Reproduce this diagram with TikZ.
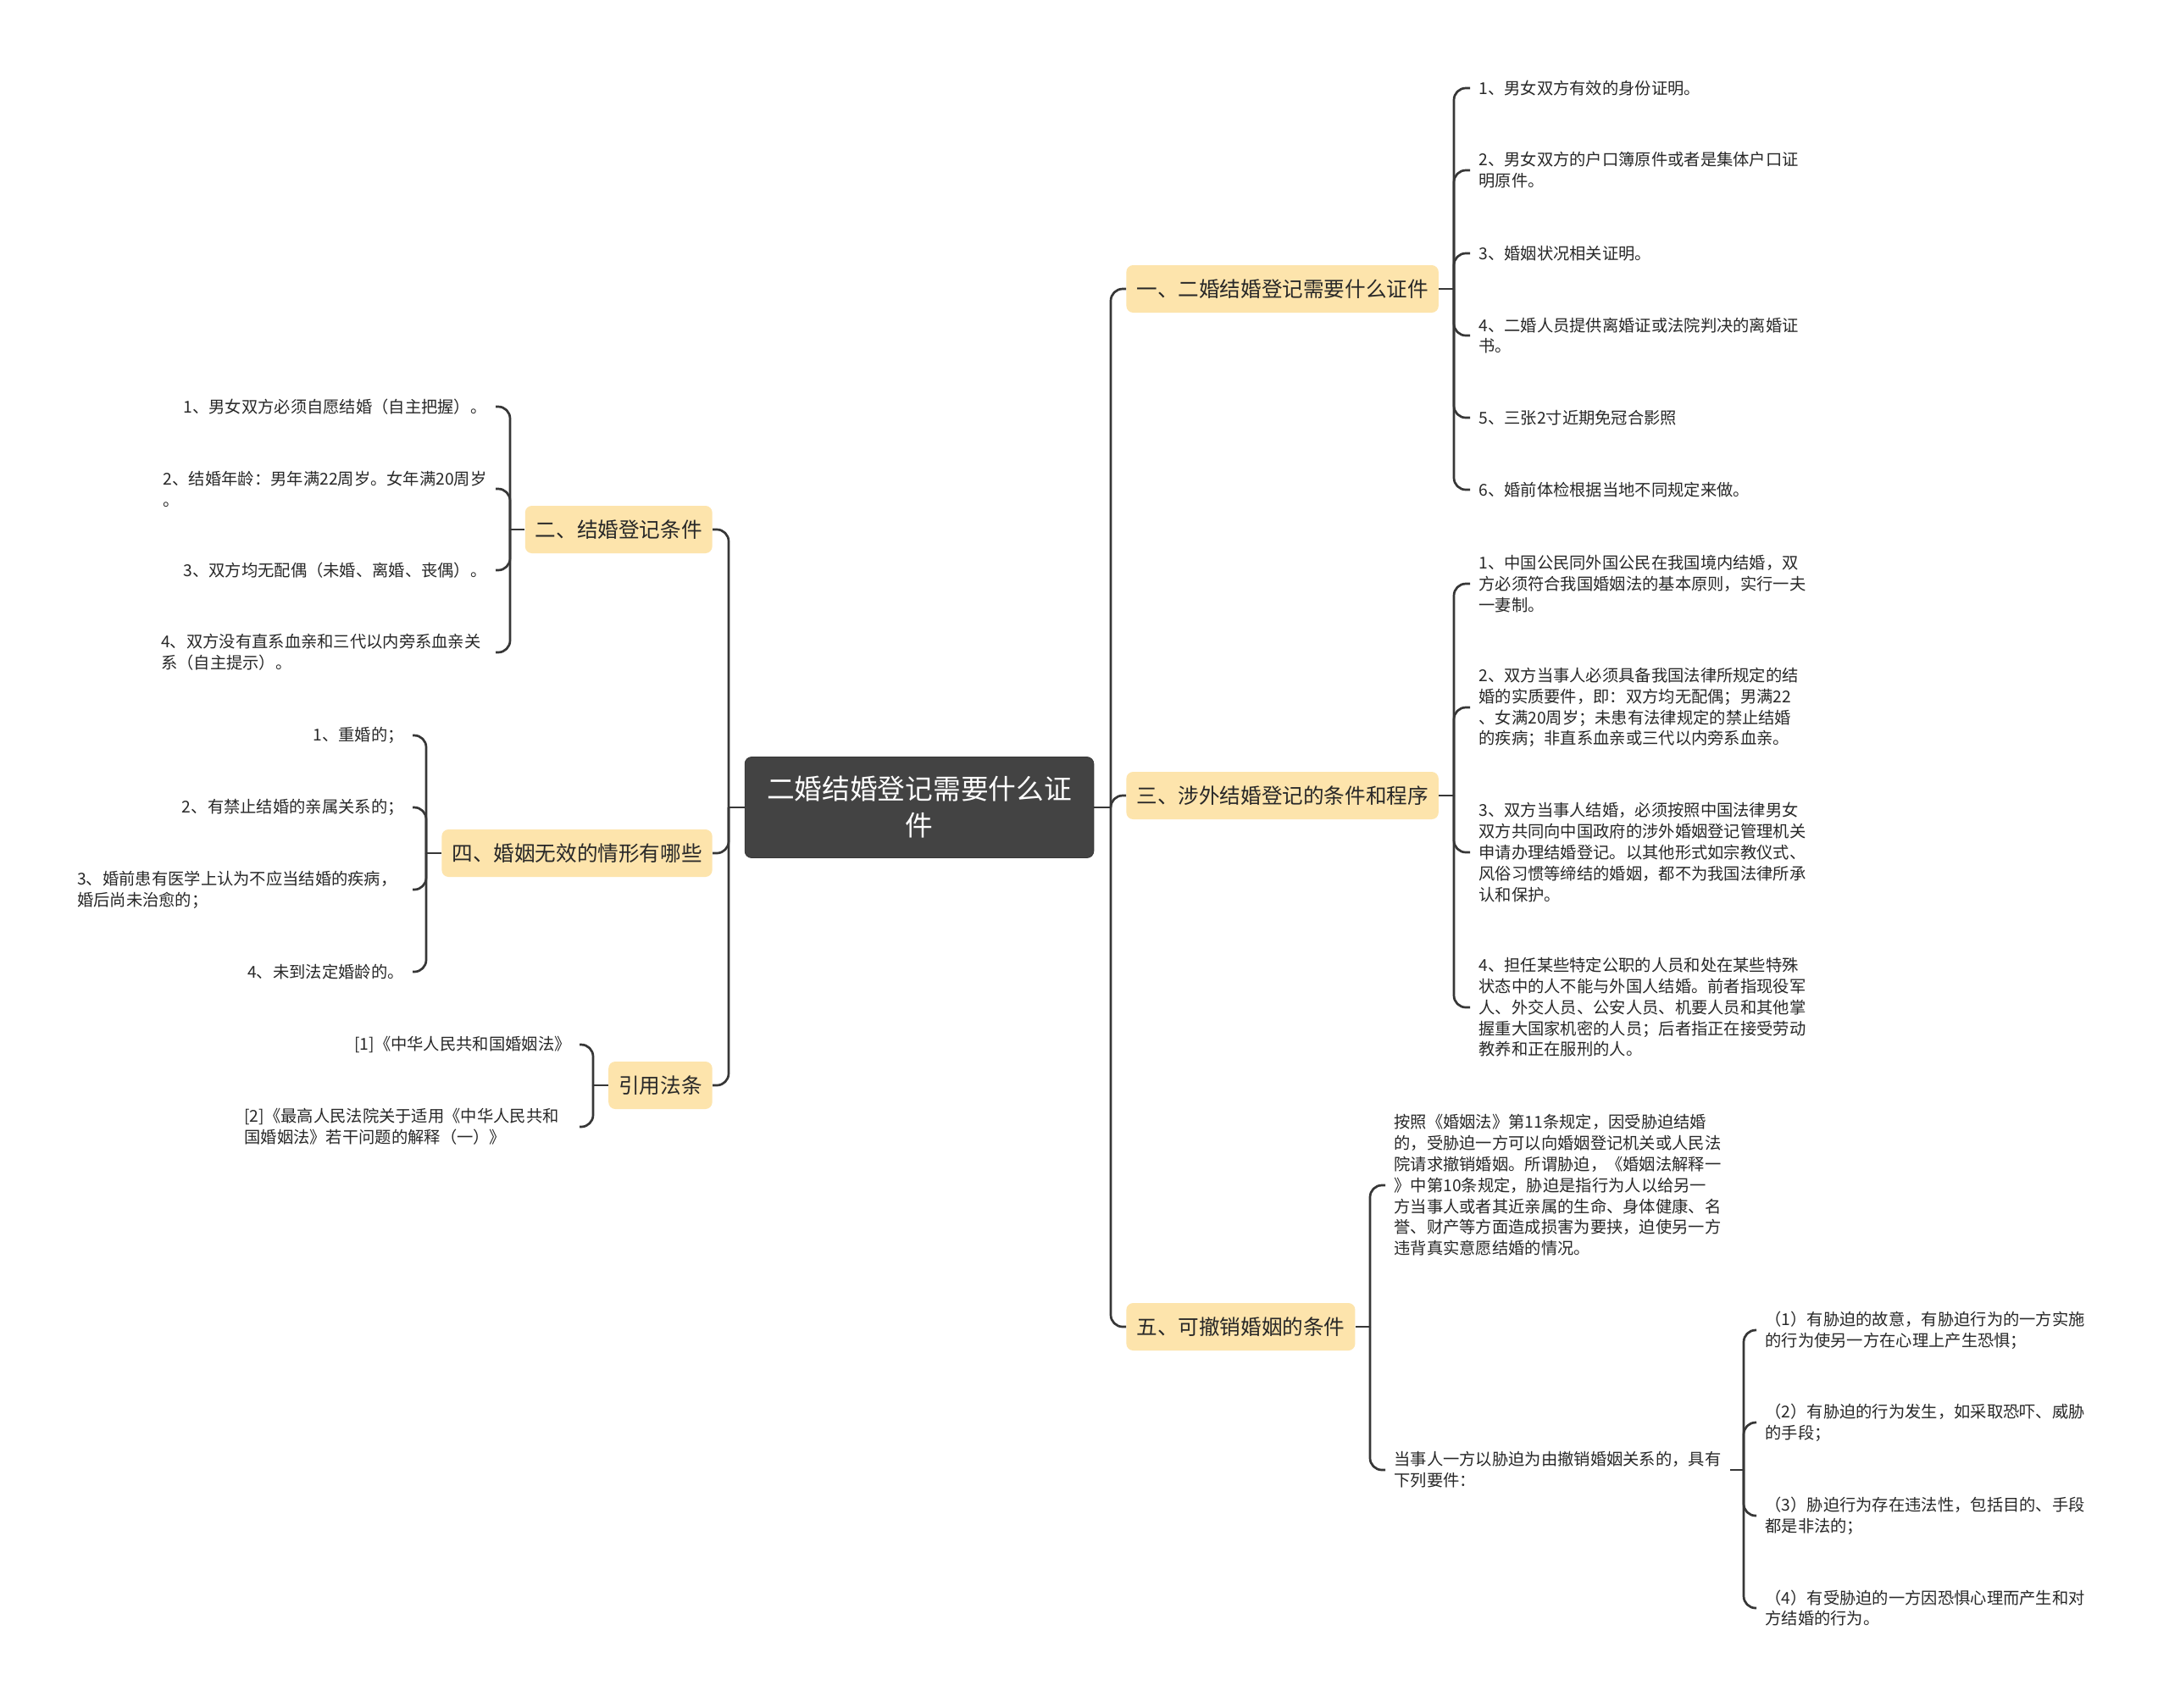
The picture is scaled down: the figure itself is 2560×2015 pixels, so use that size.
\documentclass[tikz,border=0pt]{standalone}
\usepackage{fontspec}
\setmainfont{Noto Sans CJK SC}
\usetikzlibrary{positioning}

\definecolor{rootgray}{RGB}{67,67,67}
\definecolor{topicyellow}{RGB}{253,228,172}
\definecolor{linegray}{RGB}{55,55,55}
\definecolor{textgray}{RGB}{40,40,40}

\begin{document}
\begin{tikzpicture}
[x=0.5pt, y=-0.5pt,
    every node/.style={align=left, text=textgray},
    central/.style={fill=rootgray, draw=rootgray!80!black, text=white,
    rounded corners=4pt, align=center, font=\fontsize{16.35}{21.5}\selectfont,
    inner xsep=13pt, minimum height=59.5pt},
    topic/.style={fill=topicyellow, rounded corners=4pt,
    font=\fontsize{12.3}{15}\selectfont, inner xsep=6pt, minimum height=28pt},
    leaf/.style={font=\fontsize{9.65}{12.4}\selectfont, inner xsep=5pt, inner ysep=1pt},
    branch/.style={draw=linegray, line width=1.35pt, rounded corners=7pt},
    ]
    \path[fill=white] (0,0) rectangle (2560,2015);
    \useasboundingbox (0,0) rectangle (2560,2015);

    % centre and main topics
    \node[central] (root) at (1085,953) {二婚结婚登记需要什么证\\件};

    \node[topic, anchor=west] (t1) at (1329,341) {一、二婚结婚登记需要什么证件};
    \node[topic, anchor=west] (t3) at (1329,939) {三、涉外结婚登记的条件和程序};
    \node[topic, anchor=west] (t5) at (1329,1566) {五、可撤销婚姻的条件};
    \node[topic, anchor=east] (t2) at (841,625) {二、结婚登记条件};
    \node[topic, anchor=east] (t4) at (841,1007) {四、婚姻无效的情形有哪些};
    \node[topic, anchor=east] (tcite) at (841,1281) {引用法条};

    \coordinate (rtrunk) at (1311,953);
    \coordinate (ltrunk) at (860,953);
    \draw[branch] (root.east) -- (rtrunk);
    \draw[branch] (root.west) -- (ltrunk);
    \foreach \t in {t1,t3,t5} \draw[branch] (rtrunk) |- (\t.west);
    \foreach \t in {t2,t4,tcite} \draw[branch] (ltrunk) |- (\t.east);

    % 一
    \node[leaf, anchor=west] (a1) at (1735,104) {1、男女双方有效的身份证明。};
    \node[leaf, anchor=west] (a2) at (1735,201) {2、男女双方的户口簿原件或者是集体户口证\\明原件。};
    \node[leaf, anchor=west] (a3) at (1735,299) {3、婚姻状况相关证明。};
    \node[leaf, anchor=west] (a4) at (1735,396) {4、二婚人员提供离婚证或法院判决的离婚证\\书。};
    \node[leaf, anchor=west] (a5) at (1735,493) {5、三张2寸近期免冠合影照};
    \node[leaf, anchor=west] (a6) at (1735,578) {6、婚前体检根据当地不同规定来做。};
    \coordinate (t1x) at (1716,341);
    \draw[branch] (t1.east) -- (t1x);
    \foreach \l in {a1,a2,a3,a4,a5,a6} \draw[branch] (t1x) |- (\l.west);

    % 三
    \node[leaf, anchor=west] (c1) at (1735,689) {1、中国公民同外国公民在我国境内结婚，双\\方必须符合我国婚姻法的基本原则，实行一夫\\一妻制。};
    \node[leaf, anchor=west] (c2) at (1735,835) {2、双方当事人必须具备我国法律所规定的结\\婚的实质要件，即：双方均无配偶；男满22\\、女满20周岁；未患有法律规定的禁止结婚\\的疾病；非直系血亲或三代以内旁系血亲。};
    \node[leaf, anchor=west] (c3) at (1735,1006) {3、双方当事人结婚，必须按照中国法律男女\\双方共同向中国政府的涉外婚姻登记管理机关\\申请办理结婚登记。以其他形式如宗教仪式、\\风俗习惯等缔结的婚姻，都不为我国法律所承\\认和保护。};
    \node[leaf, anchor=west] (c4) at (1735,1189) {4、担任某些特定公职的人员和处在某些特殊\\状态中的人不能与外国人结婚。前者指现役军\\人、外交人员、公安人员、机要人员和其他掌\\握重大国家机密的人员；后者指正在接受劳动\\教养和正在服刑的人。};
    \coordinate (t3x) at (1716,939);
    \draw[branch] (t3.east) -- (t3x);
    \foreach \l in {c1,c2,c3,c4} \draw[branch] (t3x) |- (\l.west);

    % 五
    \node[leaf, anchor=west] (e1) at (1635,1399) {按照《婚姻法》第11条规定，因受胁迫结婚\\的，受胁迫一方可以向婚姻登记机关或人民法\\院请求撤销婚姻。所谓胁迫，《婚姻法解释一\\》中第10条规定，胁迫是指行为人以给另一\\方当事人或者其近亲属的生命、身体健康、名\\誉、财产等方面造成损害为要挟，迫使另一方\\违背真实意愿结婚的情况。};
    \node[leaf, anchor=west] (e2) at (1635,1735) {当事人一方以胁迫为由撤销婚姻关系的，具有\\下列要件：};
    \coordinate (t5x) at (1617,1566);
    \draw[branch] (t5.east) -- (t5x);
    \foreach \l in {e1,e2} \draw[branch] (t5x) |- (\l.west);

    \node[leaf, anchor=west] (f1) at (2073,1570) {（1）有胁迫的故意，有胁迫行为的一方实施\\的行为使另一方在心理上产生恐惧；};
    \node[leaf, anchor=west] (f2) at (2073,1679) {（2）有胁迫的行为发生，如采取恐吓、威胁\\的手段；};
    \node[leaf, anchor=west] (f3) at (2073,1789) {（3）胁迫行为存在违法性，包括目的、手段\\都是非法的；};
    \node[leaf, anchor=west] (f4) at (2073,1898) {（4）有受胁迫的一方因恐惧心理而产生和对\\方结婚的行为。};
    \coordinate (e2x) at (2058,1735);
    \draw[branch] (e2.east) -- (e2x);
    \foreach \l in {f1,f2,f3,f4} \draw[branch] (e2x) |- (\l.west);

    % 二
    \node[leaf, anchor=east] (b1) at (585,480) {1、男女双方必须自愿结婚（自主把握）。};
    \node[leaf, anchor=east] (b2) at (585,577) {2、结婚年龄：男年满22周岁。女年满20周岁\\。};
    \node[leaf, anchor=east] (b3) at (585,673) {3、双方均无配偶（未婚、离婚、丧偶）。};
    \node[leaf, anchor=east] (b4) at (578,770) {4、双方没有直系血亲和三代以内旁系血亲关\\系（自主提示）。};
    \coordinate (t2x) at (602,625);
    \draw[branch] (t2.west) -- (t2x);
    \foreach \l in {b1,b2,b3} \draw[branch] (t2x) |- (\l.east);
    \draw[branch] (t2x) |- (b4.east -| b1.east);

    % 四
    \node[leaf, anchor=east] (d1) at (487,868) {1、重婚的；};
    \node[leaf, anchor=east] (d2) at (487,953) {2、有禁止结婚的亲属关系的；};
    \node[leaf, anchor=east] (d3) at (479,1050) {3、婚前患有医学上认为不应当结婚的疾病，\\婚后尚未治愈的；};
    \node[leaf, anchor=east] (d4) at (487,1147) {4、未到法定婚龄的。};
    \coordinate (t4x) at (503,1007);
    \draw[branch] (t4.west) -- (t4x);
    \foreach \l in {d1,d2,d4} \draw[branch] (t4x) |- (\l.east);
    \draw[branch] (t4x) |- (d3.east -| d1.east);

    % 引用法条
    \node[leaf, anchor=east] (g1) at (684,1233) {[1]《中华人民共和国婚姻法》};
    \node[leaf, anchor=east] (g2) at (670,1330) {[2]《最高人民法院关于适用《中华人民共和\\国婚姻法》若干问题的解释（一）》};
    \coordinate (tcx) at (700,1281);
    \draw[branch] (tcite.west) -- (tcx);
    \draw[branch] (tcx) |- (g1.east);
    \draw[branch] (tcx) |- (g2.east -| g1.east);

\end{tikzpicture}
\end{document}
